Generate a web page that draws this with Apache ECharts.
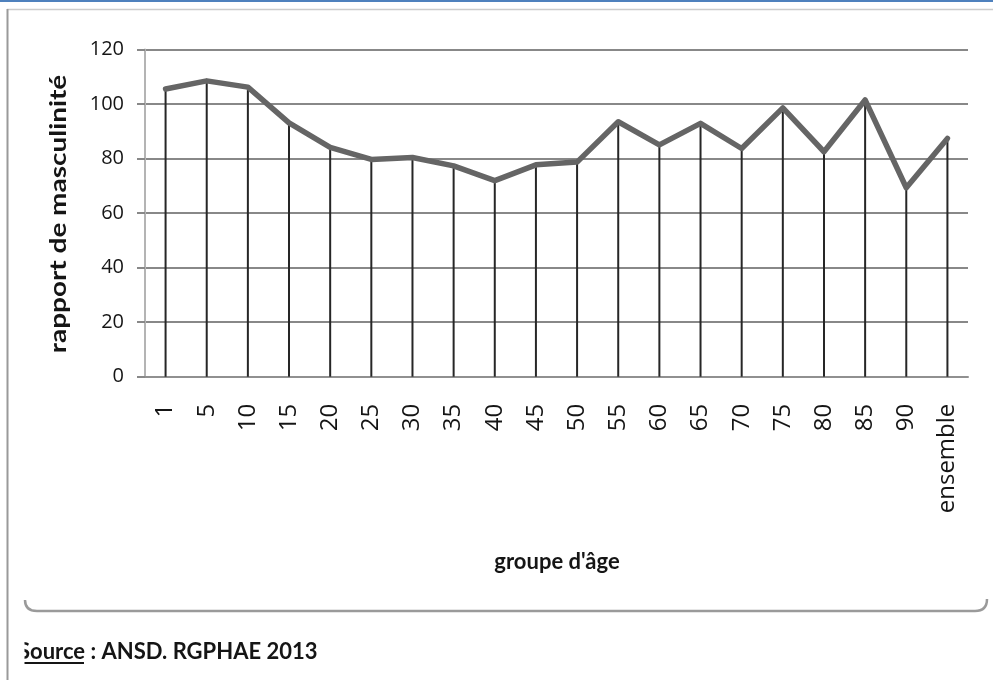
<!DOCTYPE html>
<html>
<head>
<meta charset="utf-8">
<script src="https://cdn.jsdelivr.net/npm/echarts@6/dist/echarts.min.js"></script>
<style>
  html, body { margin: 0; padding: 0; background: #fff; }
  #chart { width: 993px; height: 680px; }
</style>
</head>
<body>
<div id="chart"></div>
<script>
// Age groups (lower bound of each 5-year group) plus the overall figure
const ageGroups = ['1', '5', '10', '15', '20', '25', '30', '35', '40', '45', '50',
                   '55', '60', '65', '70', '75', '80', '85', '90', 'ensemble'];
// Sex ratio (men per 100 women) for each age group
const sexRatio = [105.5, 108.5, 106.2, 93.1, 84.1, 79.7, 80.4, 77.3, 71.9, 77.7, 78.7,
                  93.5, 85.0, 92.9, 83.7, 98.6, 82.5, 101.5, 69.3, 87.4];
// Value axis range and step
const yMin = 0;
const yMax = 120;
const yStep = 20;

const yTitle = 'rapport de masculinité';
const xTitle = "groupe d'âge";
const sourceText = 'Source : ANSD. RGPHAE 2013';

const chart = echarts.init(document.getElementById('chart'), null, { renderer: 'canvas' });

const frameColor = '#9a9a9a';
const textColor = '#151515';

chart.setOption({
  animation: false,
  backgroundColor: '#ffffff',
  grid: {
    left: 145,
    right: 25,
    top: 49.5,
    bottom: 303.3,
    containLabel: false,
    outerBoundsMode: 'none'
  },
  xAxis: {
    type: 'category',
    data: ageGroups,
    boundaryGap: true,
    axisLine: { show: true, lineStyle: { color: '#909090', width: 2 } },
    axisTick: { show: false },
    splitLine: { show: false },
    axisLabel: {
      rotate: 90,
      margin: 27,
      interval: 0,
      fontFamily: 'Open Sans',
      fontSize: 24,
      color: textColor
    }
  },
  yAxis: {
    type: 'value',
    min: yMin,
    max: yMax,
    interval: yStep,
    axisLine: { show: true, lineStyle: { color: '#b4b4b4', width: 2 } },
    axisTick: { show: true, length: 8, lineStyle: { color: '#888888', width: 2 } },
    splitLine: { show: true, lineStyle: { color: '#888888', width: 2 } },
    axisLabel: {
      margin: 21,
      fontFamily: 'Open Sans',
      fontSize: 20,
      color: textColor
    }
  },
  series: [
    {
      // thin drop lines from each point down to the category axis
      type: 'bar',
      data: sexRatio,
      barWidth: 2,
      silent: true,
      itemStyle: { color: '#262626' },
      z: 2
    },
    {
      type: 'line',
      data: sexRatio,
      symbol: 'none',
      silent: true,
      lineStyle: { color: '#656565', width: 5.5, cap: 'round', join: 'round' },
      z: 3
    }
  ],
  graphic: [
    { type: 'rect', shape: { x: 0, y: 0, width: 993, height: 2 }, style: { fill: '#4f81bd' }, z: 10 },
    { type: 'line', shape: { x1: 7, y1: 9.5, x2: 993, y2: 9.5 }, style: { stroke: '#cccccc', lineWidth: 1.5 }, z: 10 },
    // rounded bottom edge of the chart frame
    { type: 'bezierCurve', shape: { x1: 25, y1: 600, cpx1: 25, cpy1: 611, x2: 37, y2: 611 },
      style: { stroke: frameColor, lineWidth: 2.5, fill: null }, z: 10 },
    { type: 'line', shape: { x1: 37, y1: 611, x2: 975, y2: 611 }, style: { stroke: frameColor, lineWidth: 2.5 }, z: 10 },
    { type: 'bezierCurve', shape: { x1: 975, y1: 611, cpx1: 987, cpy1: 611, x2: 987, y2: 599 },
      style: { stroke: frameColor, lineWidth: 2.5, fill: null }, z: 10 },
    {
      type: 'text', x: 59, y: 214, rotation: Math.PI / 2, scaleX: 1.27,
      style: { text: yTitle, font: 'bold 22px Lato', fill: textColor, align: 'center', verticalAlign: 'middle' },
      z: 10
    },
    {
      type: 'text', x: 557, y: 562,
      style: { text: xTitle, font: 'bold 22px Lato', fill: textColor, align: 'center', verticalAlign: 'middle' },
      z: 10
    },
    {
      type: 'text', x: 18, y: 652,
      style: { text: sourceText, font: 'bold 22px Lato', fill: textColor, align: 'left', verticalAlign: 'middle' },
      z: 10
    },
    { type: 'line', shape: { x1: 18, y1: 663, x2: 84, y2: 663 }, style: { stroke: textColor, lineWidth: 2 }, z: 10 },
    { type: 'rect', shape: { x: 8.5, y: 630, width: 16, height: 45 }, style: { fill: '#ffffff' }, z: 11 },
    { type: 'line', shape: { x1: 7.5, y1: 9, x2: 7.5, y2: 680 }, style: { stroke: frameColor, lineWidth: 2 }, z: 12 }
  ]
});
</script>
</body>
</html>
